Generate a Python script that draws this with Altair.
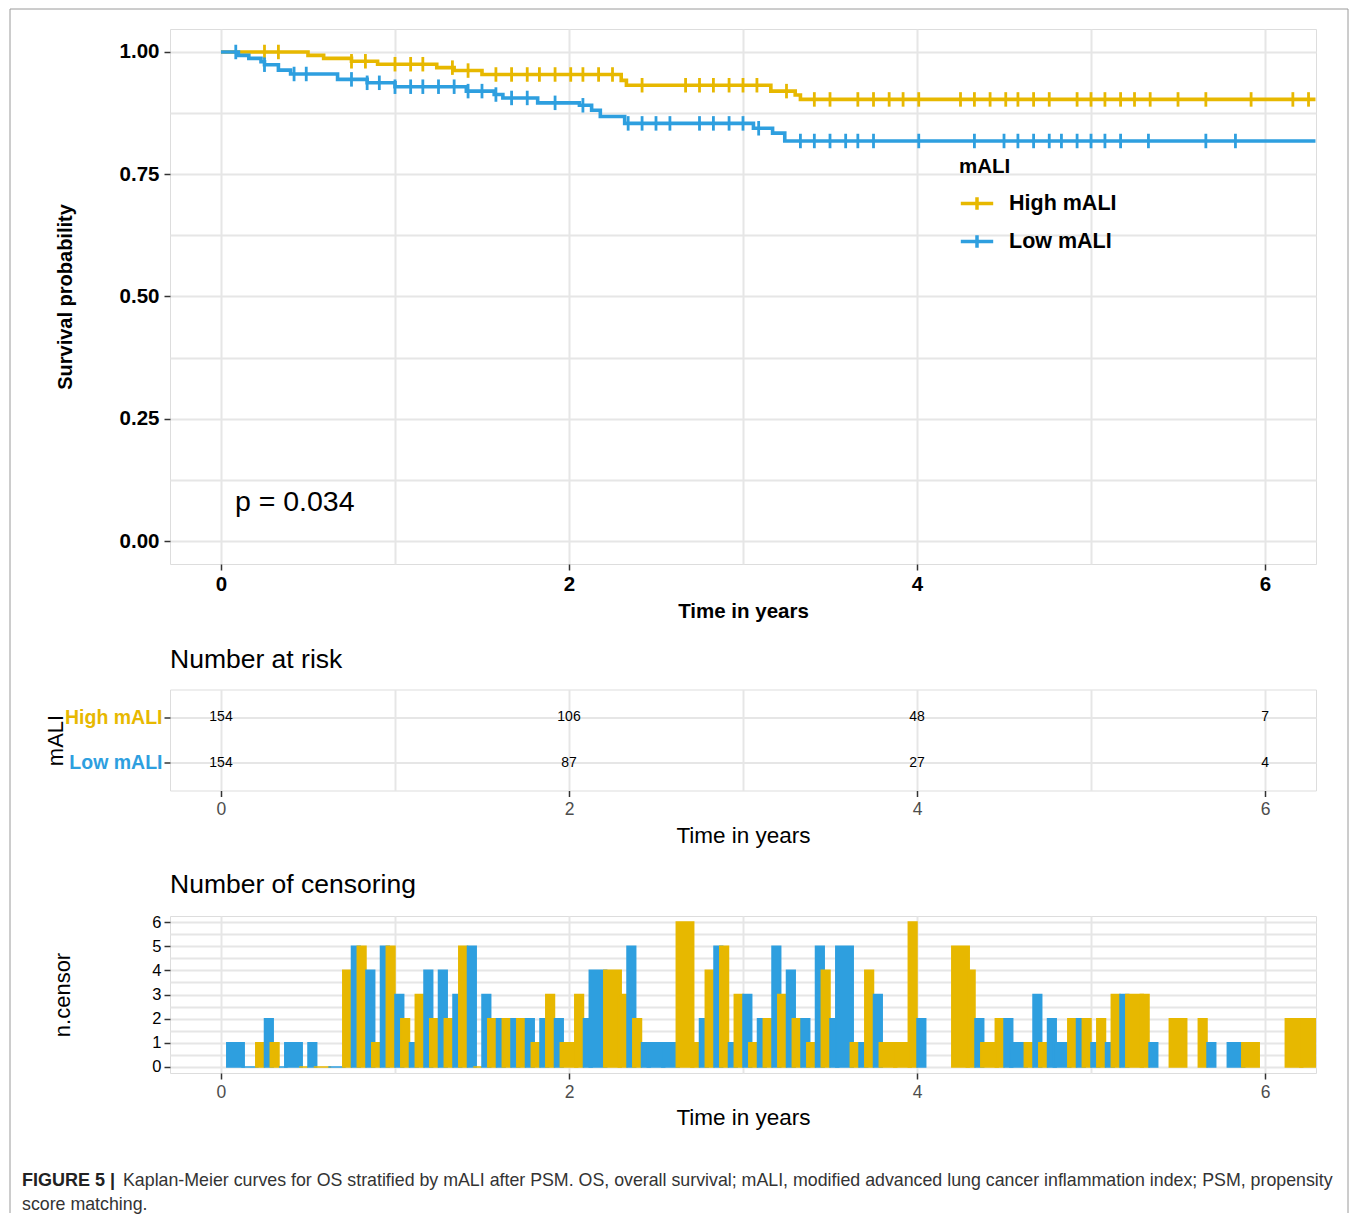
import altair as alt
import pandas as pd

FONT = "Liberation Sans, Arial, Helvetica, sans-serif"
GROUPS = ["High mALI", "Low mALI"]
COLORS = ["#E7B800", "#2E9FDF"]

# Kaplan-Meier step curves (time in years, survival after the step)
HIGH_T = [0, 0.50, 0.59, 0.75, 0.90, 1.24, 1.34, 1.50, 2.30, 2.33, 3.16, 3.30, 3.33]
HIGH_S = [1.0, 0.993, 0.987, 0.981, 0.975, 0.968, 0.962, 0.954, 0.942, 0.932, 0.920, 0.912, 0.903]
LOW_T = [0, 0.10, 0.16, 0.23, 0.25, 0.33, 0.40, 0.67, 0.84, 1.00, 1.41, 1.57, 1.62, 1.82,
         2.06, 2.13, 2.18, 2.32, 3.06, 3.17, 3.24]
LOW_S = [1.0, 0.993, 0.987, 0.980, 0.974, 0.963, 0.955, 0.944, 0.937, 0.929, 0.920, 0.913,
         0.906, 0.896, 0.891, 0.881, 0.868, 0.854, 0.844, 0.834, 0.818]
T_END = 6.29

# censoring marks on the curves (years)
HIGH_CENS = [0.25, 0.33, 0.75, 0.83, 1.00, 1.09, 1.16, 1.33, 1.42, 1.58, 1.67, 1.76, 1.83, 1.92,
             2.01, 2.08, 2.17, 2.25, 2.42, 2.67, 2.75, 2.83, 2.92, 3.00, 3.08, 3.25, 3.41, 3.50,
             3.66, 3.75, 3.84, 3.92, 4.01, 4.25, 4.33, 4.42, 4.51, 4.58, 4.67, 4.76, 4.92, 5.00,
             5.08, 5.17, 5.25, 5.34, 5.50, 5.66, 5.92, 6.16, 6.25]
LOW_CENS = [0.085, 0.25, 0.42, 0.49, 0.75, 0.84, 0.91, 1.00, 1.09, 1.16, 1.25, 1.34, 1.42, 1.50,
            1.58, 1.67, 1.76, 1.92, 2.08, 2.34, 2.42, 2.50, 2.58, 2.75, 2.83, 2.92, 3.00, 3.09,
            3.33, 3.41, 3.50, 3.59, 3.66, 3.75, 4.01, 4.33, 4.50, 4.58, 4.67, 4.76, 4.83, 4.92,
            5.00, 5.08, 5.17, 5.33, 5.66, 5.83]

P_TEXT = "p = 0.034"
P_T, P_S = 0.08, 0.08

# number at risk
RISK_TIMES = [0, 2, 4, 6]
RISK_HIGH = [154, 106, 48, 7]
RISK_LOW = [154, 87, 27, 4]

# number of censoring per month
HIGH_M = [3, 4, 6, 7, 9, 10, 11, 12, 13, 14, 15, 16, 17, 18, 19, 20, 21, 22, 23, 24, 25, 27, 28,
          29, 32, 33, 34, 35, 36, 37, 38, 39, 40, 41, 42, 44, 45, 46, 47, 48, 51, 52, 53, 54,
          56, 57, 59, 60, 61, 62, 63, 64, 66, 68, 71, 74, 75]
HIGH_N = [1, 1, 0, 0, 4, 5, 1, 5, 2, 3, 2, 2, 5, 0, 2, 2, 2, 1, 3, 1, 3, 4, 3,
          2, 6, 1, 4, 5, 3, 1, 2, 3, 2, 1, 4, 1, 4, 1, 1, 6, 5, 4, 1, 2,
          1, 1, 2, 2, 2, 3, 3, 3, 2, 2, 1, 2, 2]
LOW_M = [1, 2, 3, 4, 5, 6, 8, 9, 10, 11, 12, 13, 14, 15, 16, 17, 18, 19, 20, 21, 22, 23, 25,
         26, 28, 29, 30, 31, 33, 34, 35, 36, 37, 38, 39, 40, 41, 42, 43, 44, 45, 48, 52, 54,
         55, 56, 57, 58, 59, 60, 61, 62, 64, 68, 70]
LOW_N = [1, 0, 2, 0, 1, 1, 0, 5, 4, 5, 3, 1, 4, 4, 3, 5, 3, 2, 2, 2, 2, 2, 2,
         4, 5, 1, 1, 1, 2, 5, 1, 3, 2, 5, 4, 2, 5, 2, 5, 1, 3, 2, 2, 2,
         1, 3, 2, 1, 2, 1, 1, 3, 1, 1, 1]
BAR_W = 0.1

CAPTION_BOLD = "FIGURE 5 |"
CAPTION_1 = ("Kaplan-Meier curves for OS stratified by mALI after PSM. OS, overall survival; mALI, "
             "modified advanced lung cancer inflammation index; PSM, propensity")
CAPTION_2 = "score matching."

# ---------------- data frames ----------------
def surv_at(ts, ss, t):
    v = ss[0]
    for a, b in zip(ts, ss):
        if a <= t:
            v = b
    return v

curve_rows = []
for g, ts, ss in [(GROUPS[0], HIGH_T, HIGH_S), (GROUPS[1], LOW_T, LOW_S)]:
    for t, s in zip(ts, ss):
        curve_rows.append({"group": g, "t": t, "s": s})
    curve_rows.append({"group": g, "t": T_END, "s": ss[-1]})
curve_df = pd.DataFrame(curve_rows)

cens_rows = []
for g, cs, ts, ss in [(GROUPS[0], HIGH_CENS, HIGH_T, HIGH_S), (GROUPS[1], LOW_CENS, LOW_T, LOW_S)]:
    for c in cs:
        cens_rows.append({"group": g, "t": c, "s": surv_at(ts, ss, c)})
cens_df = pd.DataFrame(cens_rows)

risk_df = pd.DataFrame(
    [{"group": GROUPS[0], "t": t, "n": n} for t, n in zip(RISK_TIMES, RISK_HIGH)]
    + [{"group": GROUPS[1], "t": t, "n": n} for t, n in zip(RISK_TIMES, RISK_LOW)]
)

hm = dict(zip(HIGH_M, HIGH_N))
lm = dict(zip(LOW_M, LOW_N))
bar_rows = []
for m in sorted(set(HIGH_M) | set(LOW_M)):
    c = m / 12.0
    both = (m in hm) and (m in lm)
    if m in hm:
        bar_rows.append({"group": GROUPS[0], "n": hm[m], "x0": c - BAR_W / 2,
                         "x1": c if both else c + BAR_W / 2})
    if m in lm:
        bar_rows.append({"group": GROUPS[1], "n": lm[m], "x0": c if both else c - BAR_W / 2,
                         "x1": c + BAR_W / 2})
bar_df = pd.DataFrame(bar_rows)

# ---------------- helpers ----------------
W = 1146
GRID = "#e6e6e6"
x_scale = alt.Scale(domain=[-0.293, 6.293], nice=False, zero=False)
color_scale = alt.Scale(domain=GROUPS, range=COLORS)


def x_axis(label_size, label_weight, label_color, title_size, title_weight, title_pad):
    return alt.Axis(
        values=list(range(7)),
        labelExpr="datum.value % 2 == 0 ? format(datum.value, 'd') : ''",
        tickColor={"condition": {"test": "datum.value % 2 != 0", "value": "transparent"},
                   "value": "#333333"},
        tickSize=6, tickWidth=1.5, domain=False,
        grid=True, gridColor=GRID, gridWidth=2,
        labelFontSize=label_size, labelFontWeight=label_weight, labelColor=label_color,
        labelFont=FONT, labelPadding=4,
        title="Time in years", titleFontSize=title_size, titleFontWeight=title_weight,
        titleFont=FONT, titleColor="black", titlePadding=title_pad,
    )

# ---------------- KM panel ----------------
km_y = alt.Axis(
    values=[i * 0.125 for i in range(9)],
    labelExpr="(datum.value * 4) % 1 == 0 ? format(datum.value, '.2f') : ''",
    tickColor={"condition": {"test": "(datum.value * 4) % 1 != 0", "value": "transparent"},
               "value": "#333333"},
    tickSize=6, tickWidth=1.5, domain=False, grid=True, gridColor=GRID, gridWidth=2,
    labelFontSize=20.5, labelFontWeight="bold", labelColor="black", labelFont=FONT, labelPadding=5,
    title="Survival probability", titleFontSize=20, titleFontWeight="bold", titleFont=FONT,
    titleColor="black", titlePadding=44,
)
y_km = alt.Scale(domain=[-0.047, 1.047], nice=False, zero=False)

legend = alt.Legend(
    title="mALI", orient="none", legendX=789, legendY=128,
    titleFontSize=20.5, titleFontWeight="bold", titleFont=FONT, titleColor="black",
    labelFontSize=21.5, labelFontWeight="bold", labelFont=FONT, labelColor="black",
    symbolType="M-1,0L1,0M0,-0.38L0,0.38", symbolSize=1050, symbolStrokeWidth=3.5,
    labelOffset=14, rowPadding=6, titlePadding=8,
)

km_line = alt.Chart(curve_df).mark_line(interpolate="step-after", strokeWidth=3.6, clip=True).encode(
    x=alt.X("t:Q", scale=x_scale, axis=x_axis(20.5, "bold", "black", 20.5, "bold", 7)),
    y=alt.Y("s:Q", scale=y_km, axis=km_y),
    color=alt.Color("group:N", scale=color_scale, legend=legend),
)
km_cens = alt.Chart(cens_df).mark_point(shape="M0,-1L0,1", size=210, strokeWidth=2.8,
                                        filled=False, opacity=1, clip=True).encode(
    x=alt.X("t:Q", scale=x_scale),
    y=alt.Y("s:Q", scale=y_km),
    color=alt.Color("group:N", scale=color_scale, legend=None),
)
km_p = alt.Chart(pd.DataFrame({"label": [P_TEXT]})).mark_text(
    align="left", baseline="middle", fontSize=28.5, font=FONT, color="black").encode(
    x=alt.datum(P_T), y=alt.datum(P_S), text="label:N")

# figure frame and caption (decoration, placed relative to the top panel)
one = pd.DataFrame({"a": [0]})
cap_bold = alt.Chart(one).mark_text(text=CAPTION_BOLD, align="left", baseline="middle",
                                    fontSize=18, fontWeight="bold", font=FONT, color="#222222").encode(
    x=alt.value(-148), y=alt.value(1152))
cap_1 = alt.Chart(one).mark_text(text=CAPTION_1, align="left", baseline="middle",
                                 fontSize=17.8, font=FONT, color="#333333").encode(
    x=alt.value(-47), y=alt.value(1152))
cap_2 = alt.Chart(one).mark_text(text=CAPTION_2, align="left", baseline="middle",
                                 fontSize=17.8, font=FONT, color="#333333").encode(
    x=alt.value(-148), y=alt.value(1176))
frame_l = alt.Chart(one).mark_rule(color="#9a9a9a", strokeWidth=1).encode(
    x=alt.value(-160), y=alt.value(-20), y2=alt.value(1184))
frame_r = alt.Chart(one).mark_rule(color="#9a9a9a", strokeWidth=1).encode(
    x=alt.value(1178), y=alt.value(-20), y2=alt.value(1184))
frame_t = alt.Chart(one).mark_rule(color="#9a9a9a", strokeWidth=1).encode(
    x=alt.value(-160), x2=alt.value(1178), y=alt.value(-20))

km = alt.layer(km_line, km_cens, km_p, cap_bold, cap_1, cap_2, frame_l, frame_r, frame_t).properties(
    width=W, height=535)

# ---------------- risk table ----------------
risk_y = alt.Axis(
    labelColor={"condition": {"test": "datum.value == 'High mALI'", "value": COLORS[0]},
                "value": COLORS[1]},
    labelFontSize=19.5, labelFontWeight="bold", labelFont=FONT, labelPadding=2,
    tickSize=6, tickWidth=1.5, tickColor="#333333", domain=False,
    grid=True, gridColor=GRID, gridWidth=2,
    title="mALI", titleFontSize=22, titleFontWeight="normal", titleFont=FONT, titleColor="black",
    titlePadding=-3,
)
risk = alt.Chart(risk_df).mark_text(fontSize=14, font=FONT, color="black").encode(
    x=alt.X("t:Q", scale=x_scale, axis=x_axis(17.5, "normal", "#4d4d4d", 22.5, "normal", 6)),
    y=alt.Y("group:N", scale=alt.Scale(type="point", domain=GROUPS, padding=0.6), axis=risk_y),
    text="n:Q",
).properties(
    width=W, height=101,
    title=alt.TitleParams("Number at risk", anchor="start", frame="group", fontSize=26.5,
                          fontWeight="normal", font=FONT, color="black", offset=16),
)

# ---------------- censoring panel ----------------
cens_y = alt.Axis(
    values=[i * 0.5 for i in range(13)],
    labelExpr="datum.value % 1 == 0 ? format(datum.value, 'd') : ''",
    tickColor={"condition": {"test": "datum.value % 1 != 0", "value": "transparent"},
               "value": "#333333"},
    tickSize=6, tickWidth=1.5, domain=False, grid=True, gridColor=GRID, gridWidth=2,
    labelFontSize=16.5, labelFont=FONT, labelColor="black", labelPadding=3,
    title="n.censor", titleFontSize=22, titleFontWeight="normal", titleFont=FONT,
    titleColor="black", titlePadding=77,
)
y_c = alt.Scale(domain=[-0.25, 6.25], nice=False, zero=False)
bars = alt.Chart(bar_df).mark_bar(strokeWidth=1.5, clip=True).encode(
    x=alt.X("x0:Q", scale=x_scale, axis=x_axis(17.5, "normal", "#4d4d4d", 22.5, "normal", 6)),
    x2="x1:Q",
    y=alt.Y("n:Q", scale=y_c, axis=cens_y),
    y2=alt.datum(0),
    color=alt.Color("group:N", scale=color_scale, legend=None),
    stroke=alt.Stroke("group:N", scale=color_scale, legend=None),
)

cens = bars.properties(
    width=W, height=157,
    title=alt.TitleParams("Number of censoring", anchor="start", frame="group", fontSize=26.5,
                          fontWeight="normal", font=FONT, color="black", offset=16),
)

chart = alt.vconcat(km, risk, cens, spacing=125.5, bounds="flush").properties(
    padding={"left": 1, "top": 0, "right": 0, "bottom": 0}
).configure_view(stroke="black", strokeWidth=2).configure(font=FONT)

chart.save("out.html", embed_options={"renderer": "svg", "actions": False})
